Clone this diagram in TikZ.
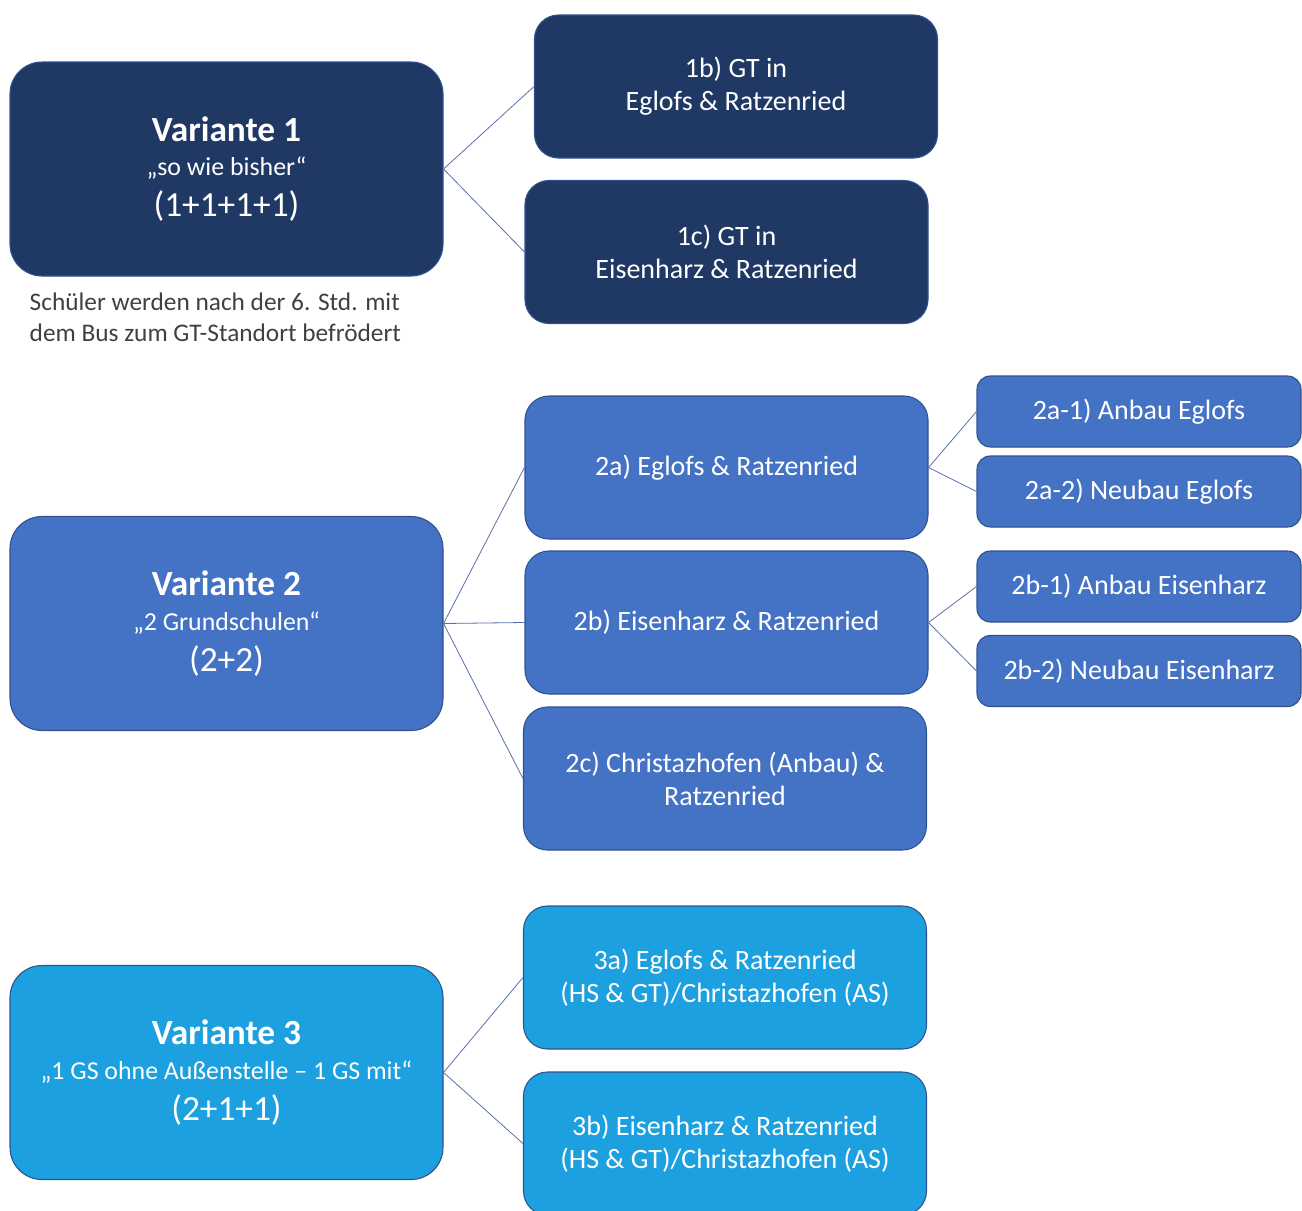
\documentclass[tikz,border=0pt]{standalone}
\usepackage{fontspec}
\setmainfont{Carlito}

\definecolor{navy}{HTML}{203864}
\definecolor{midblue}{HTML}{4472C4}
\definecolor{skyblue}{HTML}{1CA0DF}
\definecolor{rim}{HTML}{2F528F}
\definecolor{linkcol}{HTML}{5B6FAA}
\definecolor{captext}{HTML}{404040}

\tikzset{
  box/.style={draw=rim, line width=0.8pt, text=white, align=center, inner sep=0pt},
  bigbox/.style={box, rounded corners=24pt, minimum width=324.75pt, minimum height=160.5pt,
                 font=\fontsize{19.4}{26}\selectfont},
  midbox/.style={box, rounded corners=18pt, minimum width=302.25pt, minimum height=107.25pt,
                 font=\fontsize{21}{24.75}\selectfont},
  smallbox/.style={box, rounded corners=10pt, minimum width=243pt, minimum height=53.25pt,
                   font=\fontsize{21}{24.75}\selectfont},
  link/.style={draw=linkcol, line width=0.6pt}
}

\newcommand{\varhead}[3]{%
  {\fontsize{26.5}{26}\selectfont\bfseries #1}\\
  #2\\[4.5pt]
  {\fontsize{26.5}{26}\selectfont #3}}

\begin{document}
\begin{tikzpicture}[x=0.75pt, y=-0.75pt]
\useasboundingbox (0,0) rectangle (1302,1210);

% Variante 1
\node[bigbox, fill=navy] (v1) at (226.5,169)
  {\varhead{Variante 1}{„so wie bisher“}{(1+1+1+1)}};
\node[midbox, fill=navy] (v1b) at (736,86.5) {1b) GT in\\Eglofs \& Ratzenried};
\node[midbox, fill=navy] (v1c) at (726.5,252) {1c) GT in\\Eisenharz \& Ratzenried};
\node[anchor=west, align=left, text=captext, font=\fontsize{19}{23.25}\selectfont] (note) at (25,317.5)
  {Schüler werden nach der 6. Std. mit\\dem Bus zum GT-Standort befrödert};

\draw[link] (v1.east) -- (v1b.west);
\draw[link] (v1.east) -- (v1c.west);

% Variante 2
\node[bigbox, fill=midblue] (v2) at (226.5,623.5)
  {\varhead{Variante 2}{„2 Grundschulen“}{(2+2)}};
\node[midbox, fill=midblue] (v2a) at (726.5,467.5) {2a) Eglofs \& Ratzenried};
\node[midbox, fill=midblue] (v2b) at (726.5,622.5) {2b) Eisenharz \& Ratzenried};
\node[midbox, fill=midblue] (v2c) at (725,778.5) {2c) Christazhofen (Anbau) \&\\Ratzenried};
\node[smallbox, fill=midblue] (v2a1) at (1139,411.5) {2a-1) Anbau Eglofs};
\node[smallbox, fill=midblue] (v2a2) at (1139,491.5) {2a-2) Neubau Eglofs};
\node[smallbox, fill=midblue] (v2b1) at (1139,586.5) {2b-1) Anbau Eisenharz};
\node[smallbox, fill=midblue] (v2b2) at (1139,671) {2b-2) Neubau Eisenharz};

\draw[link] (v2.east) -- (v2a.west);
\draw[link] (v2.east) -- (v2b.west);
\draw[link] (v2.east) -- (v2c.west);
\draw[link] (v2a.east) -- (v2a1.west);
\draw[link] (v2a.east) -- (v2a2.west);
\draw[link] (v2b.east) -- (v2b1.west);
\draw[link] (v2b.east) -- (v2b2.west);

% Variante 3
\node[bigbox, fill=skyblue] (v3) at (226.5,1072.5)
  {\varhead{Variante 3}{„1 GS ohne Außenstelle – 1 GS mit“}{(2+1+1)}};
\node[midbox, fill=skyblue] (v3a) at (725,977.5) {3a) Eglofs \& Ratzenried\\(HS \& GT)/Christazhofen (AS)};
\node[midbox, fill=skyblue] (v3b) at (725,1143.5) {3b) Eisenharz \& Ratzenried\\(HS \& GT)/Christazhofen (AS)};

\draw[link] (v3.east) -- (v3a.west);
\draw[link] (v3.east) -- (v3b.west);
\end{tikzpicture}
\end{document}
